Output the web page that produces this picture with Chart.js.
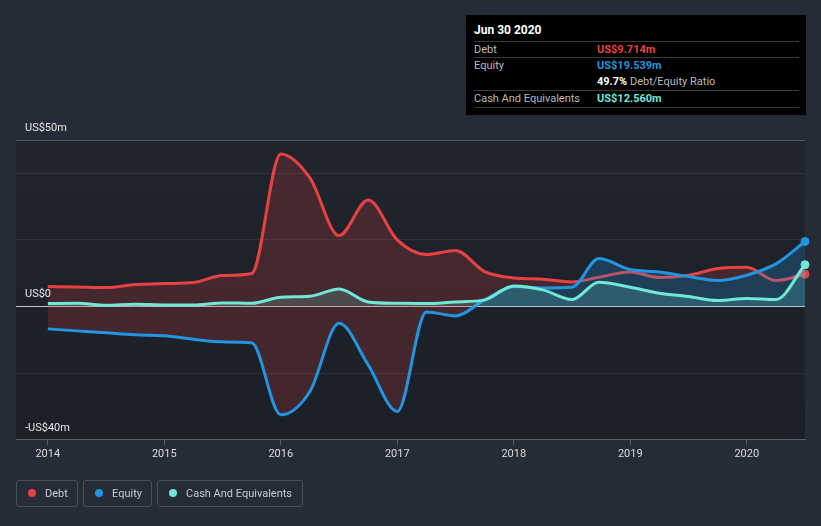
<!DOCTYPE html>
<html>
<head>
<meta charset="utf-8">
<script src="https://cdn.jsdelivr.net/npm/chart.js@4.4.1/dist/chart.umd.min.js"></script>
<style>
  html, body { margin: 0; padding: 0; background: #252b37; font-family: Roboto, "Open Sans", sans-serif; }
  #wrap { position: relative; width: 821px; height: 526px; overflow: hidden; }
  #wrap canvas { position: absolute; left: 0; top: 0; }
  .tip { position: absolute; left: 466px; top: 15px; width: 340px; height: 100px; background: #000; color: #bbb; font-size: 11px; }
  .tip .title { position: absolute; left: 8px; top: 8px; color: #fff; font-weight: bold; font-size: 12px; }
  .tip .row { position: absolute; left: 8px; right: 7px; height: 16px; line-height: 16px; }
  .tip .row.sep { border-top: 1px solid #3a3a3a; }
  .tip .val { position: absolute; left: 123px; font-weight: bold; }
  .legend { position: absolute; top: 480px; height: 27px; border: 1px solid #484e5a; border-radius: 3px; box-sizing: border-box;
            color: #c9ccd1; font-size: 11px; line-height: 25px; padding-left: 28px; }
  .legend i { position: absolute; left: 11px; top: 8px; width: 8px; height: 8px; border-radius: 50%; }
</style>
</head>
<body>
<div id="wrap">
  <canvas id="chart" width="821" height="526"></canvas>
  <div class="tip">
    <div class="title">Jun 30 2020</div>
    <div class="row sep" style="top:26px">Debt<span class="val" style="color:#e84142">US$9.714m</span></div>
    <div class="row sep" style="top:42px">Equity<span class="val" style="color:#2394df">US$19.539m</span></div>
    <div class="row" style="top:59px"><span class="val" style="color:#fff">49.7% <span style="color:#bbb;font-weight:normal">Debt/Equity Ratio</span></span></div>
    <div class="row sep" style="top:75px">Cash And Equivalents<span class="val" style="color:#71e7d6">US$12.560m</span></div>
    <div class="row sep" style="top:92px;height:0"></div>
  </div>
  <div class="legend" style="left:16px;width:62px"><i style="background:#e84142"></i>Debt</div>
  <div class="legend" style="left:83px;width:69px"><i style="background:#2394df"></i>Equity</div>
  <div class="legend" style="left:157px;width:146px"><i style="background:#71e7d6"></i>Cash And Equivalents</div>
</div>
<script>
// ── Data (US$ millions, quarterly) ──
const dates = [2014, 2014.25, 2014.5, 2014.75, 2015, 2015.25, 2015.5, 2015.75,
               2016, 2016.25, 2016.5, 2016.75, 2017, 2017.25, 2017.5, 2017.75,
               2018, 2018.25, 2018.5, 2018.73, 2019, 2019.25, 2019.5, 2019.75,
               2020, 2020.25, 2020.5];
const debt = [6.0, 5.9, 5.7, 6.6, 6.9, 7.2, 9.3, 9.9,
              45.8, 38.6, 21.3, 32.0, 20.0, 15.6, 16.8, 10.5,
              8.6, 8.2, 7.4, 8.8, 10.4, 8.7, 9.4, 11.4,
              11.8, 7.8, 9.714];
const equity = [-6.7, -7.3, -7.9, -8.5, -8.8, -9.8, -10.6, -10.9,
                -32.5, -25.5, -5.0, -17.5, -31.5, -1.6, -2.8, 2.0,
                6.0, 5.6, 5.8, 14.4, 11.1, 10.4, 9.0, 7.8,
                9.4, 12.8, 19.539];
const cash = [0.9, 1.0, 0.4, 0.7, 0.5, 0.5, 1.1, 1.0,
              2.8, 3.1, 5.3, 1.4, 1.0, 0.9, 1.4, 2.0,
              6.2, 5.0, 2.1, 7.3, 5.8, 4.0, 3.0, 1.8,
              2.4, 2.1, 12.56];
const yearTicks = [2014, 2015, 2016, 2017, 2018, 2019, 2020];
const gridValues = [-40, -20, 0, 20, 40, 50];
const yLabels = [{ v: 50, t: 'US$50m' }, { v: 0, t: 'US$0' }, { v: -40, t: '-US$40m' }];

const RED = '#e84142', BLUE = '#2394df', TEAL = '#71e7d6';
const pts = arr => arr.map((v, i) => ({ x: dates[i], y: v }));
const lastOnly = ctx => ctx.dataIndex === dates.length - 1 ? 4 : 0;

// ── Plot background + inline y labels ──
const plotDecor = {
  id: 'plotDecor',
  beforeDraw(chart) {
    const { ctx, chartArea: a } = chart;
    const g = ctx.createLinearGradient(0, a.top, 0, a.bottom);
    g.addColorStop(0, '#1f242d');
    g.addColorStop(1, '#1b1f27');
    ctx.save();
    ctx.fillStyle = g;
    ctx.fillRect(a.left, a.top, a.right - a.left, a.bottom - a.top);
    ctx.restore();
  },
  afterDraw(chart) {
    const { ctx, chartArea: a, scales: { y } } = chart;
    ctx.save();
    ctx.font = '11px Roboto, sans-serif';
    ctx.fillStyle = '#e6e6e6';
    ctx.textBaseline = 'middle';
    yLabels.forEach(l => ctx.fillText(l.t, a.left + 9, y.getPixelForValue(l.v) - 12));
    ctx.restore();
  }
};

// order: debt is drawn first so the equity fill tints the debt line where equity is higher
new Chart(document.getElementById('chart'), {
  type: 'line',
  data: {
    datasets: [
      { label: 'Debt', data: pts(debt), borderColor: RED, backgroundColor: RED, order: 2, clip: false,
        fill: { target: 1, above: 'rgba(232,65,66,0.2)', below: 'rgba(0,0,0,0)' } },
      { label: 'Equity', data: pts(equity), borderColor: BLUE, backgroundColor: BLUE, order: 1, clip: false,
        fill: { target: 'origin', above: 'rgba(35,148,223,0.25)', below: 'rgba(0,0,0,0)' } },
      { label: 'Cash And Equivalents', data: pts(cash), borderColor: TEAL, backgroundColor: TEAL, order: 0, clip: false,
        fill: { target: 'origin', above: 'rgba(113,231,214,0.18)', below: 'rgba(0,0,0,0)' } }
    ]
  },
  options: {
    responsive: false,
    animation: false,
    layout: { padding: { left: 16, right: 16, top: 140, bottom: 62 } },
    elements: {
      line: { borderWidth: 3, cubicInterpolationMode: 'monotone' },
      point: { radius: lastOnly, borderColor: '#fff', borderWidth: 1, hoverRadius: 0 }
    },
    plugins: { legend: { display: false }, tooltip: { enabled: false } },
    scales: {
      x: {
        type: 'linear', min: 2013.727, max: 2020.5,
        afterBuildTicks: s => { s.ticks = yearTicks.map(v => ({ value: v })); },
        ticks: { color: '#dcdcdc', font: { size: 11, family: 'Roboto' }, padding: 3, maxRotation: 0,
                 callback: v => String(v) },
        grid: { drawOnChartArea: false, drawTicks: true, tickLength: 5, color: '#5a606c' },
        border: { display: true, color: '#5a606c' }
      },
      y: {
        min: -40, max: 50,
        afterBuildTicks: s => { s.ticks = gridValues.map(v => ({ value: v })); },
        ticks: { display: false },
        grid: {
          drawTicks: false,
          color: c => c.tick.value === 0 ? '#c4c4c4' : (c.tick.value === 50 ? 'rgba(255,255,255,0.22)' : 'rgba(255,255,255,0.08)'),
          lineWidth: 1
        },
        border: { display: false }
      }
    }
  },
  plugins: [plotDecor]
});
</script>
</body>
</html>
